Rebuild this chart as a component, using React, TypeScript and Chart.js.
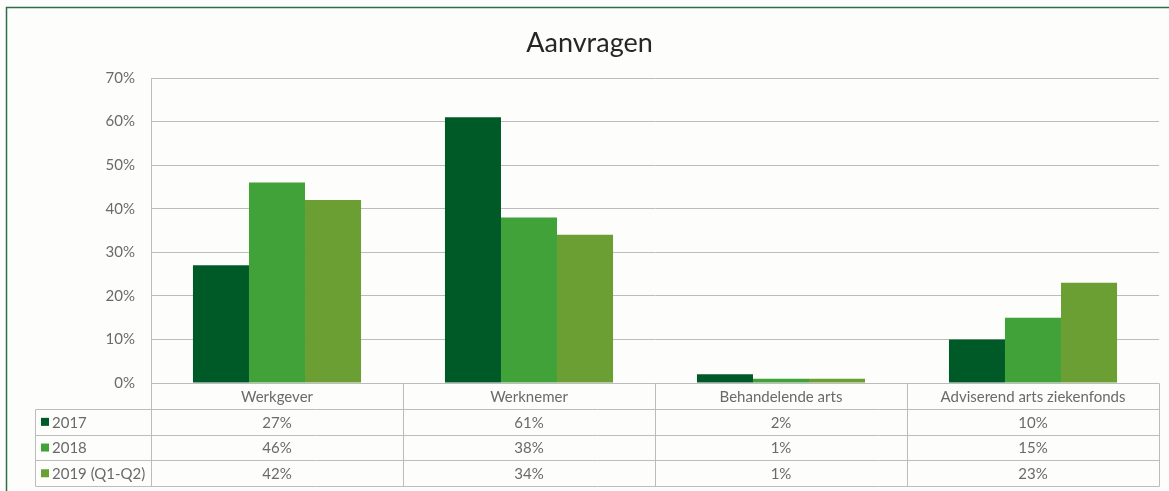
import React, { useEffect, useRef } from "react";
import { Chart, registerables } from "chart.js";

Chart.register(...registerables);

const title = "Aanvragen";
const categories = ["Werkgever", "Werknemer", "Behandelende arts", "Adviserend arts ziekenfonds"];
const seriesNames = ["2017", "2018", "2019 (Q1-Q2)"];
const values2017 = [27, 61, 2, 10];
const values2018 = [46, 38, 1, 15];
const values2019 = [42, 34, 1, 23];
const seriesColors = ["#005a28", "#41a23a", "#6b9f34"];

const FONT = "Lato, 'Open Sans', sans-serif";
const TEXT = "#6a6a6a";
const GRID = "#bcbcbc";

const tablePlugin = {
  id: "tablePlugin",
  beforeDraw(chart: any) {
    const ctx = chart.ctx;
    ctx.save();
    ctx.fillStyle = "#fdfdfb";
    ctx.fillRect(0, 0, chart.width, chart.height);
    ctx.restore();
  },
  afterDraw(chart: any) {
    const ctx = chart.ctx;
    const x = chart.scales.x;
    const area = chart.chartArea;
    const labels: string[] = chart.data.labels;
    const ds = chart.data.datasets;
    const n = labels.length;
    const colW = (area.right - area.left) / n;
    const headerH = 26;
    const rowH = 25.7;
    const tableLeft = 35;
    const top = area.bottom;
    const headBottom = top + headerH;
    const bottom = headBottom + rowH * ds.length;

    ctx.save();
    // outer border
    ctx.strokeStyle = "#2f6e46";
    ctx.lineWidth = 1.5;
    ctx.strokeRect(6.5, 7.5, chart.width + 20, chart.height + 20);

    // title
    ctx.fillStyle = "#262626";
    ctx.font = `27px ${FONT}`;
    ctx.textAlign = "center";
    ctx.textBaseline = "middle";
    ctx.fillText(title, chart.width / 2 + 5, 43);

    // table lines
    ctx.strokeStyle = GRID;
    ctx.lineWidth = 1;
    const line = (x1: number, y1: number, x2: number, y2: number) => {
      ctx.beginPath();
      ctx.moveTo(Math.round(x1) + 0.5, Math.round(y1) + 0.5);
      ctx.lineTo(Math.round(x2) + 0.5, Math.round(y2) + 0.5);
      ctx.stroke();
    };
    line(area.left, top, area.right, top);
    for (let r = 0; r <= ds.length; r++) {
      const y = headBottom + r * rowH;
      line(tableLeft, y, area.right, y);
    }
    line(tableLeft, headBottom, tableLeft, bottom);
    for (let c = 0; c <= n; c++) {
      const xx = area.left + c * colW;
      line(xx, top, xx, bottom);
    }

    // header labels
    ctx.fillStyle = TEXT;
    ctx.font = `15px ${FONT}`;
    ctx.textAlign = "center";
    labels.forEach((l, i) => {
      ctx.fillText(l, x.getPixelForValue(i), top + headerH / 2 + 1);
    });

    // rows
    ds.forEach((d: any, r: number) => {
      const cy = headBottom + r * rowH + rowH / 2 + 1;
      ctx.fillStyle = d.backgroundColor;
      ctx.fillRect(tableLeft + 6, cy - 5, 8, 8);
      ctx.fillStyle = TEXT;
      ctx.textAlign = "left";
      ctx.fillText(d.label, tableLeft + 17, cy);
      ctx.textAlign = "center";
      d.data.forEach((v: number, i: number) => {
        ctx.fillText(v + "%", x.getPixelForValue(i), cy);
      });
    });
    ctx.restore();
  },
};

export default function App() {
  const ref = useRef<HTMLCanvasElement>(null);
  useEffect(() => {
    if (!ref.current) return;
    const chart = new Chart(ref.current, {
      type: "bar",
      data: {
        labels: categories,
        datasets: [
          { label: seriesNames[0], data: values2017, backgroundColor: seriesColors[0] },
          { label: seriesNames[1], data: values2018, backgroundColor: seriesColors[1] },
          { label: seriesNames[2], data: values2019, backgroundColor: seriesColors[2] },
        ],
      },
      options: {
        responsive: false,
        animation: false,
        layout: { padding: { left: 0, right: 10, top: 78, bottom: 108 } },
        datasets: { bar: { barPercentage: 1, categoryPercentage: 0.667 } },
        plugins: { legend: { display: false }, tooltip: { enabled: false }, title: { display: false } },
        scales: {
          x: { display: false },
          y: {
            min: 0,
            max: 70,
            afterFit: (s: any) => { s.width = 151; },
            ticks: {
              stepSize: 10,
              padding: 16,
              color: TEXT,
              font: { family: FONT, size: 15 },
              callback: (v: any) => v + "%",
            },
            grid: { color: GRID, drawTicks: false, lineWidth: 1 },
            border: { display: true, color: GRID },
          },
        },
      },
      plugins: [tablePlugin],
    });
    return () => chart.destroy();
  }, []);
  return (
    <div style={{ position: "absolute", left: 0, top: 0, width: 1169, height: 491 }}>
      <canvas ref={ref} width={1169} height={491} style={{ display: "block" }} />
    </div>
  );
}
